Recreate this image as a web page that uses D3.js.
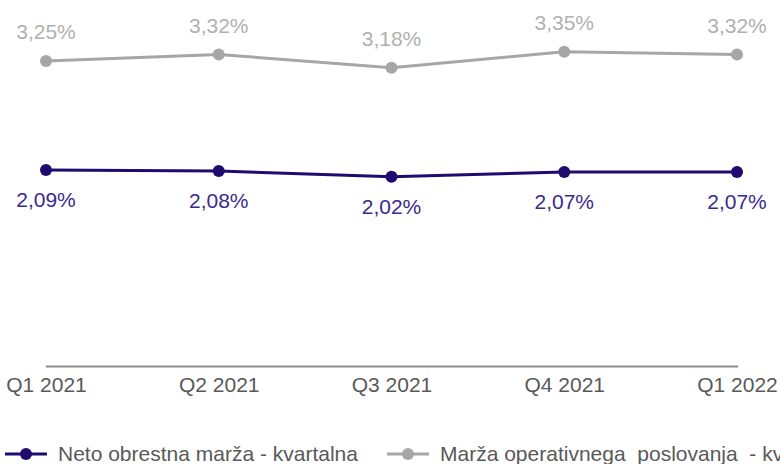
<!DOCTYPE html>
<html>
<head>
<meta charset="utf-8">
<script src="https://cdn.jsdelivr.net/npm/d3@7"></script>
<style>
  body { margin: 0; background: #fff; }
  svg { display: block; font-family: "Liberation Sans", Arial, sans-serif; }
</style>
</head>
<body>
<div id="chart"></div>
<script>
var quarters = ["Q1 2021", "Q2 2021", "Q3 2021", "Q4 2021", "Q1 2022"];
var netoMarza = [2.09, 2.08, 2.02, 2.07, 2.07];
var operativnaMarza = [3.25, 3.32, 3.18, 3.35, 3.32];
var seriesNames = ["Neto obrestna marža - kvartalna", "Marža operativnega  poslovanja  - kvartalna"];

var width = 780, height = 464;

var svg = d3.select("#chart")
    .append("svg")
    .attr("width", width)
    .attr("height", height);

var x = d3.scalePoint()
    .domain(quarters)
    .range([46, 737]);

var y = d3.scaleLinear()
    .domain([0, 3.9])
    .range([366.5, 0]);

var fmt = function(v) { return v.toFixed(2).replace(".", ",") + "%"; };

// x axis
var xAxis = svg.append("g")
    .attr("transform", "translate(0," + y(0) + ")")
    .call(d3.axisBottom(x).tickSize(0).tickPadding(11));
xAxis.select(".domain")
    .attr("d", "M46,0H738")
    .attr("stroke", "#8c8c8c")
    .attr("stroke-width", 2);
xAxis.selectAll("text")
    .attr("fill", "#595959")
    .style("font-size", "21px")
    .style("font-family", "'Liberation Sans', Arial, sans-serif");

var series = [
    {name: seriesNames[1], values: operativnaMarza, color: "#a6a6a6", label: "#b0b0b0", dy: -22},
    {name: seriesNames[0], values: netoMarza, color: "#200a70", label: "#3b2a8e", dy: 37}
];

var line = d3.line()
    .x(function(d, i) { return x(quarters[i]); })
    .y(function(d) { return y(d); });

series.forEach(function(s) {
    svg.append("path")
        .datum(s.values)
        .attr("fill", "none")
        .attr("stroke", s.color)
        .attr("stroke-width", 3)
        .attr("d", line);

    svg.selectAll(null)
        .data(s.values)
        .enter()
        .append("circle")
        .attr("cx", function(d, i) { return x(quarters[i]); })
        .attr("cy", function(d) { return y(d); })
        .attr("r", 6)
        .attr("fill", s.color);

    svg.selectAll(null)
        .data(s.values)
        .enter()
        .append("text")
        .attr("x", function(d, i) { return x(quarters[i]); })
        .attr("y", function(d) { return y(d) + s.dy; })
        .attr("text-anchor", "middle")
        .attr("fill", s.label)
        .style("font-size", "21px")
        .text(fmt);
});

// legend
var legend = [
    {name: seriesNames[0], color: "#200a70", x: 5},
    {name: seriesNames[1], color: "#a6a6a6", x: 387}
];
var lg = svg.selectAll(".legend")
    .data(legend)
    .enter()
    .append("g")
    .attr("class", "legend")
    .attr("transform", function(d) { return "translate(" + d.x + ",454)"; });
lg.append("line")
    .attr("x1", 0).attr("x2", 42)
    .attr("stroke", function(d) { return d.color; })
    .attr("stroke-width", 3);
lg.append("circle")
    .attr("cx", 21)
    .attr("r", 6)
    .attr("fill", function(d) { return d.color; });
lg.append("text")
    .attr("x", 53)
    .attr("dy", "0.35em")
    .attr("fill", "#595959")
    .style("font-size", "21px")
    .style("white-space", "pre")
    .text(function(d) { return d.name; });
</script>
</body>
</html>
